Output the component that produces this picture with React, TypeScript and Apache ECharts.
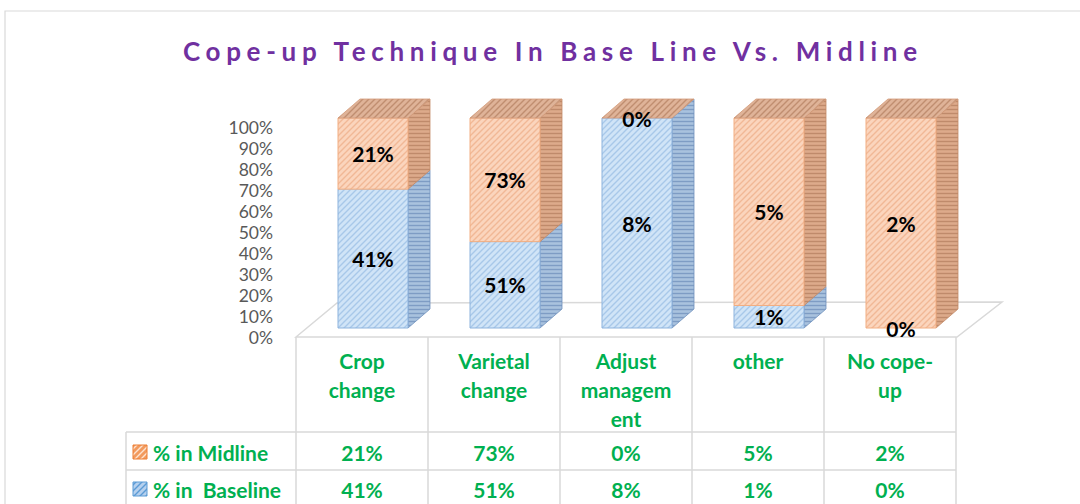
import React, { useEffect, useRef } from 'react';
import * as echarts from 'echarts';

const TITLE = 'Cope-up Technique In Base Line Vs. Midline';
const categories = ['Crop\nchange', 'Varietal\nchange', 'Adjust\nmanagem\nent', 'other', 'No cope-\nup'];
const midlineValues = [21, 73, 0, 5, 2];
const baselineValues = [41, 51, 8, 0.6, 0];
const seriesNames = ['% in Midline', '% in  Baseline'];

const FONT = 'Lato';
const GREEN = '#00B050';
const GRID_LINE = '#D9D9D9';

// 3D geometry
const BAR_RATIO = 70 / 132;
const OFF_X = 11;
const OFF_Y = -9;
const DX = 22;
const DY = -19;
const ROW1_Y = 452;
const ROW2_Y = 489;
const TABLE_FONT = 21;

const fmt = (v: number) => Math.round(v) + '%';

function makePattern(bg: string, fg: string, kind: 'diag' | 'horiz') {
  const c = document.createElement('canvas');
  const size = kind === 'diag' ? 6 : 4;
  c.width = size;
  c.height = size;
  const ctx = c.getContext('2d')!;
  ctx.fillStyle = bg;
  ctx.fillRect(0, 0, size, size);
  ctx.strokeStyle = fg;
  ctx.lineWidth = 1.4;
  ctx.beginPath();
  if (kind === 'diag') {
    ctx.moveTo(0, 6); ctx.lineTo(6, 0);
    ctx.moveTo(-1, 1); ctx.lineTo(1, -1);
    ctx.moveTo(5, 7); ctx.lineTo(7, 5);
  } else {
    ctx.moveTo(0, 1.5); ctx.lineTo(4, 1.5);
  }
  ctx.stroke();
  return { image: c, repeat: 'repeat', imageWidth: size, imageHeight: size } as any;
}

export default function App() {
  const ref = useRef<HTMLDivElement>(null);

  useEffect(() => {
    document.body.style.margin = '0';
    const el = ref.current!;
    const chart = echarts.init(el, null, { renderer: 'svg' });

    const pctBase = baselineValues.map((b, i) => {
      const t = b + midlineValues[i];
      return t > 0 ? (b / t) * 100 : 0;
    });

    const blueFront = makePattern('#D0E4F7', '#A8C8E9', 'diag');
    const blueSide = makePattern('#A9C2DE', '#7E9CC4', 'horiz');
    const orangeFront = makePattern('#FBD5BD', '#F1B896', 'diag');
    const orangeSide = makePattern('#DDAA8B', '#BF8A6B', 'horiz');
    const orangeTop = makePattern('#DFB398', '#C08E70', 'diag');
    const keyOrange = makePattern('#F29A5E', '#FDE3D1', 'diag');
    const keyBlue = makePattern('#B5D0EE', '#5B9BD5', 'diag');

    const segRenderer = (front: any, side: any, stroke: string, sideStroke: string, withTop: boolean) =>
      (params: any, api: any) => {
        const i = api.value(0);
        const s = api.value(1);
        const e = api.value(2);
        const pb = api.coord([i, s]);
        const pt = api.coord([i, e]);
        const band = api.size([1, 0])[0];
        const w = band * BAR_RATIO;
        const cx = pb[0] + OFF_X;
        const yb = pb[1] + OFF_Y;
        const yt = pt[1] + OFF_Y;
        const xl = cx - w / 2;
        const xr = cx + w / 2;
        const children: any[] = [];
        if (yb - yt > 0.5) {
          children.push({
            type: 'polygon',
            shape: { points: [[xr, yt], [xr + DX, yt + DY], [xr + DX, yb + DY], [xr, yb]] },
            style: { fill: side, stroke: sideStroke, lineWidth: 0.8 },
          });
          children.push({
            type: 'rect',
            shape: { x: xl, y: yt, width: w, height: yb - yt },
            style: { fill: front, stroke, lineWidth: 1 },
          });
        }
        if (withTop) {
          children.push({
            type: 'polygon',
            shape: { points: [[xl, yt], [xl + DX, yt + DY], [xr + DX, yt + DY], [xr, yt]] },
            style: { fill: orangeTop, stroke: '#D39A78', lineWidth: 0.8 },
          });
        }
        return { type: 'group', children };
      };

    const labelRenderer = (params: any, api: any) => {
      const i = api.value(0);
      const pB = api.coord([i, api.value(1)]);
      const pM = api.coord([i, api.value(2)]);
      const mk = (p: number[], v: number) => ({
        type: 'text',
        x: p[0] + OFF_X,
        y: p[1] + OFF_Y,
        style: {
          text: fmt(v),
          align: 'center', verticalAlign: 'middle',
          textAlign: 'center', textVerticalAlign: 'middle',
          fill: '#000', fontSize: 21, fontWeight: 'bold', fontFamily: FONT,
        },
      });
      return { type: 'group', children: [mk(pB, api.value(3)), mk(pM, api.value(4))] };
    };

    const tableRenderer = (params: any, api: any) => {
      const i = api.value(0);
      const x = api.coord([i, 0])[0];
      const mk = (y: number, v: number) => ({
        type: 'text',
        x, y,
        style: {
          text: fmt(v),
          align: 'center', verticalAlign: 'middle',
          textAlign: 'center', textVerticalAlign: 'middle',
          fill: GREEN, fontSize: TABLE_FONT, fontWeight: 'bold', fontFamily: FONT,
        },
      });
      return { type: 'group', children: [mk(ROW1_Y, api.value(1)), mk(ROW2_Y, api.value(2))] };
    };

    // title letter spacing
    const titleFont = `bold 26px ${FONT}`;
    const mc = document.createElement('canvas').getContext('2d')!;
    mc.font = titleFont;
    const tw = mc.measureText(TITLE).width;
    const ls = Math.max(0, (736 - tw) / (TITLE.length - 1));

    const colX = [296, 428, 560, 692, 824, 956];
    const lineStyle = { stroke: GRID_LINE, lineWidth: 1.5 };
    const rowText = (text: string, y: number) => ({
      type: 'text', x: 153, y,
      style: {
        text, align: 'left', verticalAlign: 'middle', textAlign: 'left', textVerticalAlign: 'middle',
        fill: GREEN, fontSize: TABLE_FONT, fontWeight: 'bold', fontFamily: FONT,
      },
    });
    const graphics: any[] = [
      { type: 'rect', shape: { x: 5, y: 11, width: 1200, height: 700 }, style: { fill: 'none', stroke: GRID_LINE, lineWidth: 1.2 }, silent: true },
      { type: 'polygon', shape: { points: [[296, 337], [337, 303], [1002, 302], [957, 337]] }, style: { fill: 'none', stroke: GRID_LINE, lineWidth: 1.5 } },
      ...colX.map((x) => ({ type: 'line', shape: { x1: x, y1: 337, x2: x, y2: 510 }, style: lineStyle })),
      { type: 'line', shape: { x1: 126, y1: 432, x2: 956, y2: 432 }, style: lineStyle },
      { type: 'line', shape: { x1: 126, y1: 470, x2: 956, y2: 470 }, style: lineStyle },
      { type: 'line', shape: { x1: 126, y1: 432, x2: 126, y2: 510 }, style: lineStyle },
      { type: 'rect', shape: { x: 133, y: 445, width: 14, height: 14 }, style: { fill: keyOrange, stroke: '#ED7D31', lineWidth: 1 } },
      { type: 'rect', shape: { x: 133, y: 482, width: 14, height: 14 }, style: { fill: keyBlue, stroke: '#5B9BD5', lineWidth: 1 } },
      rowText(seriesNames[0], ROW1_Y),
      rowText(seriesNames[1], ROW2_Y),
      {
        type: 'text', id: 'title', x: 550 + ls / 2, y: 51,
        style: { text: TITLE, align: 'center', verticalAlign: 'middle', textAlign: 'center', textVerticalAlign: 'middle', fill: '#7030A0', font: titleFont },
      },
    ];

    chart.setOption({
      animation: false,
      backgroundColor: '#fff',
      grid: { left: 296, right: 124, top: 127, bottom: 167, containLabel: false },
      xAxis: {
        type: 'category',
        data: categories,
        axisLine: { show: false },
        axisTick: { show: false },
        splitLine: { show: false },
        axisLabel: {
          interval: 0, margin: 9, color: GREEN, fontWeight: 'bold', fontSize: TABLE_FONT,
          fontFamily: FONT, lineHeight: 29,
        },
      },
      yAxis: {
        type: 'value', min: 0, max: 100, interval: 10,
        axisLine: { show: false }, axisTick: { show: false }, splitLine: { show: false },
        axisLabel: { formatter: '{value}%', color: '#595959', fontSize: 17.5, lineHeight: 17, fontFamily: FONT, margin: 23 },
      },
      graphic: { elements: graphics },
      series: [
        {
          type: 'custom', name: seriesNames[1], clip: false, z: 3,
          encode: { x: 0, y: 1 },
          renderItem: segRenderer(blueFront, blueSide, '#8DB3DD', '#6F90BC', false),
          data: pctBase.map((p, i) => [i, 0, p]),
        },
        {
          type: 'custom', name: seriesNames[0], clip: false, z: 3,
          encode: { x: 0, y: 1 },
          renderItem: segRenderer(orangeFront, orangeSide, '#F2AE82', '#C38A68', true),
          data: pctBase.map((p, i) => [i, p, 100]),
        },
        {
          type: 'custom', name: 'labels', clip: false, z: 5,
          encode: { x: 0, y: 1 },
          renderItem: labelRenderer,
          data: pctBase.map((p, i) => [i, p / 2, (p + 100) / 2, baselineValues[i], midlineValues[i]]),
        },
        {
          type: 'custom', name: 'table', clip: false, z: 5,
          encode: { x: 0, y: 1 },
          renderItem: tableRenderer,
          data: categories.map((c, i) => [i, midlineValues[i], baselineValues[i]]),
        },
      ],
    });

    const applySpacing = () => {
      el.querySelectorAll('text').forEach((t) => {
        if (t.textContent === TITLE) t.setAttribute('letter-spacing', ls.toFixed(2) + 'px');
      });
    };
    applySpacing();
    chart.on('finished', applySpacing);

    return () => {
      chart.dispose();
    };
  }, []);

  return <div ref={ref} style={{ position: 'absolute', left: 0, top: 0, width: 1080, height: 504 }} />;
}
